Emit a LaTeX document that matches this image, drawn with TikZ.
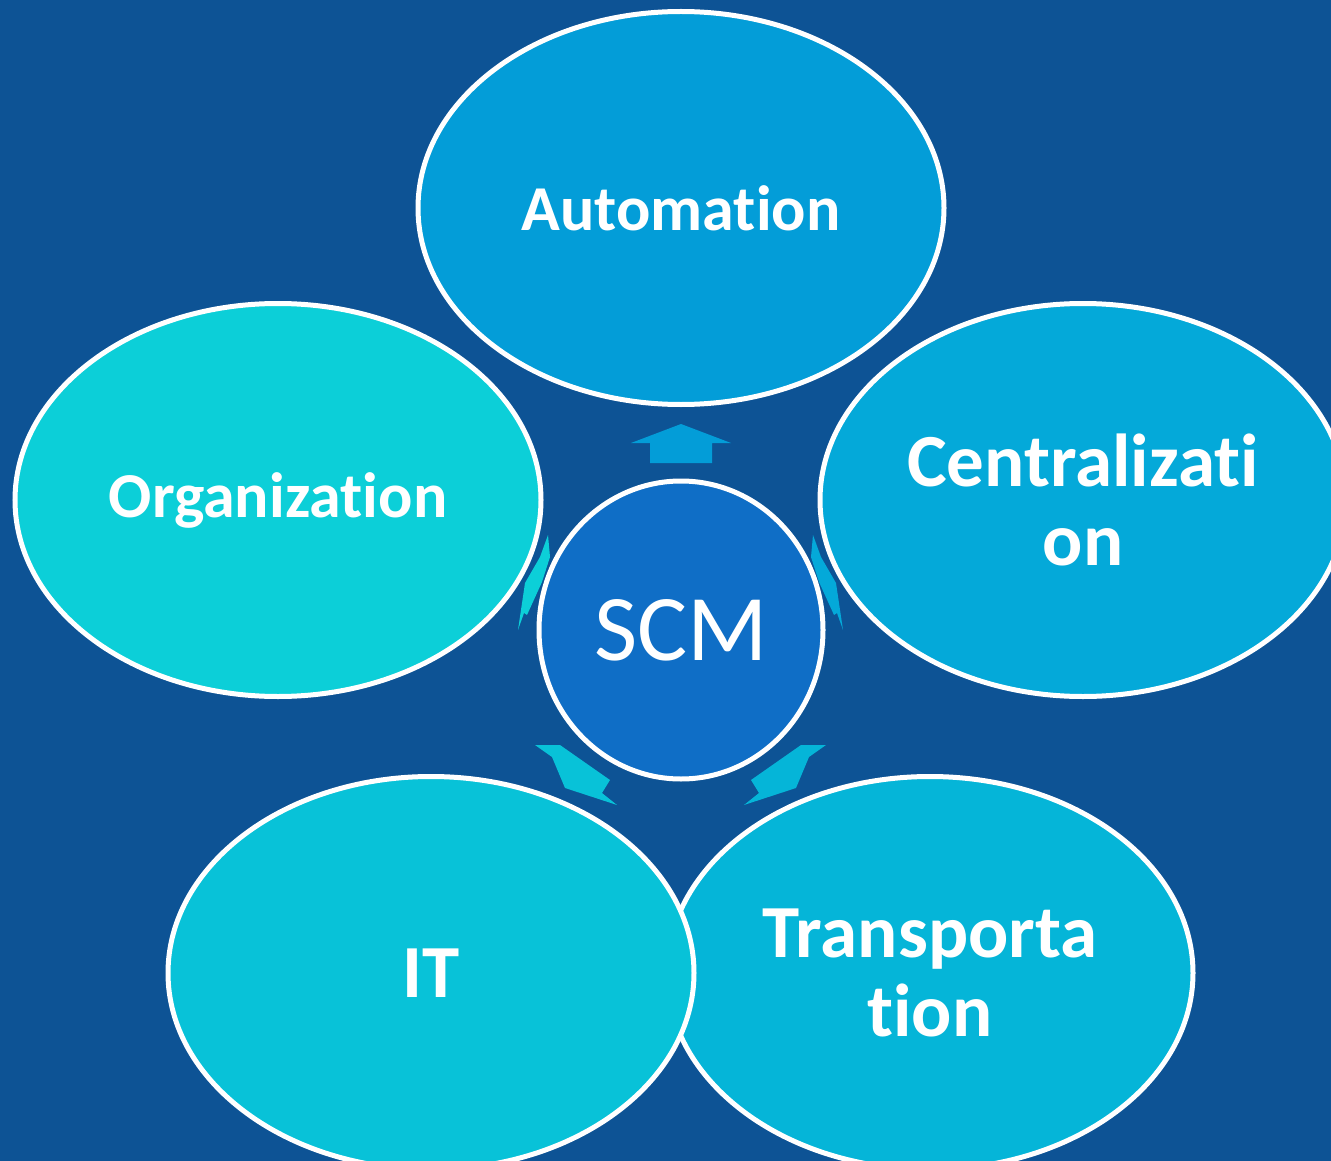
\documentclass[tikz,border=0pt]{standalone}
\usepackage{fontspec}
\setmainfont{Carlito}[Ligatures={NoCommon}]
\usetikzlibrary{shapes.geometric}
\definecolor{bg}{HTML}{0D5395}
\definecolor{cAuto}{HTML}{039DD8}
\definecolor{cOrg}{HTML}{0CCFD8}
\definecolor{cCent}{HTML}{04A9D9}
\definecolor{cIT}{HTML}{08C2D8}
\definecolor{cTrans}{HTML}{05B5D8}
\definecolor{cSCM}{HTML}{0F6EC6}
\tikzset{
  bubble/.style={ellipse, draw=white, line width=5pt, minimum width=526pt, minimum height=393pt,
    inner sep=0pt, text=white, font=\fontsize{64}{83}\selectfont\bfseries, align=center},
  bigtext/.style={font=\fontsize{75}{79}\selectfont\bfseries},
  hub/.style={ellipse, draw=white, line width=5pt, fill=cSCM, minimum width=284pt, minimum height=298pt,
    inner sep=0pt, text=white, font=\fontsize{94}{100}\selectfont},
}
\begin{document}
\begin{tikzpicture}[x=1pt,y=-1pt]
\useasboundingbox (0,0) rectangle (1331,1161);
\fill[bg] (0,0) rectangle (1331,1161);
\node[bubble, fill=cAuto] (auto) at (681,208) {Automation};
\node[bubble, fill=cOrg] (org) at (278,500) {Organization};
\node[bubble, bigtext, fill=cCent] (cent) at (1083,500) {Centralizati\\on};
\node[bubble, bigtext, fill=cTrans] (trans) at (930,973) {Transporta\\tion};
\node[bubble, bigtext, fill=cIT] (it) at (431,973) {IT};
\node[hub] (scm) at (681,630) {SCM};
% arrows
\fill[cAuto] (681,424) -- (731,443) -- (712,443) -- (712,463) -- (650,463) -- (650,443) -- (631,443) -- cycle;
\fill[cOrg] (548,535) -- (550,557) -- (542,582) -- (527,615) -- (524,613) -- (518,630) -- (525,583) -- (540,557) -- cycle;
\fill[cCent] (813,535) -- (811,557) -- (819,582) -- (834,615) -- (837,613) -- (843,630) -- (836,583) -- (821,557) -- cycle;
\fill[cIT] (535,745) -- (560,745) -- (610,780) -- (602,793) -- (617,805) -- (565,788) -- (552,757) -- cycle;
\fill[cTrans] (826,745) -- (801,745) -- (751,780) -- (759,793) -- (744,805) -- (796,788) -- (809,757) -- cycle;
\end{tikzpicture}
\end{document}
